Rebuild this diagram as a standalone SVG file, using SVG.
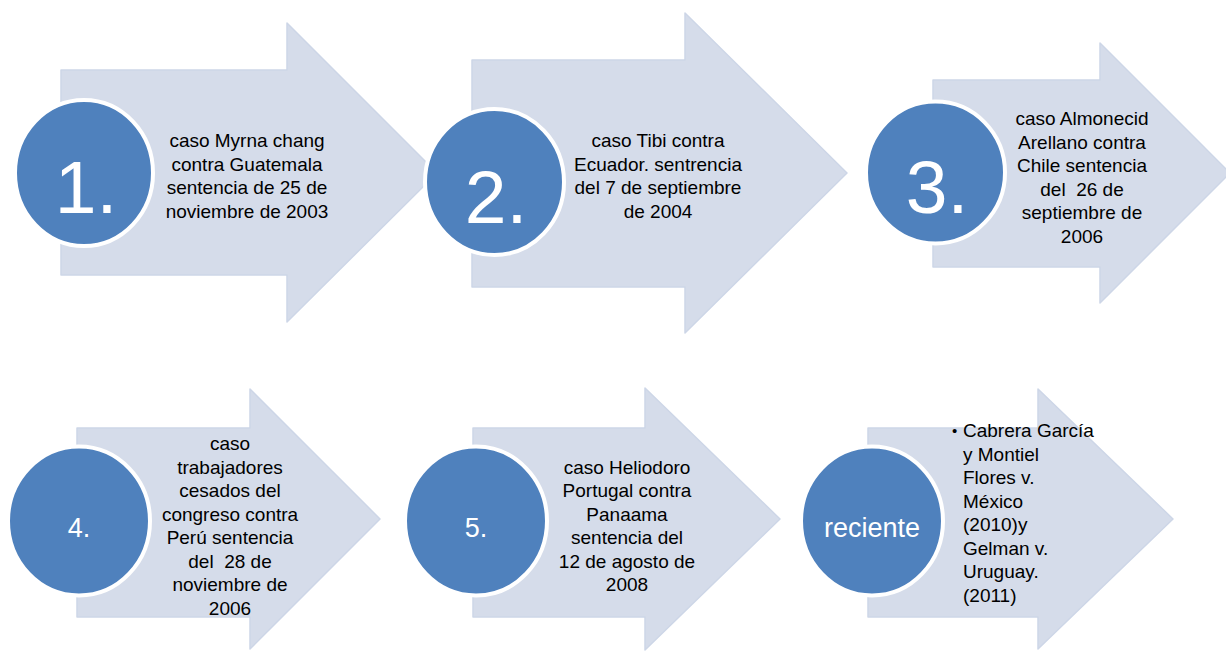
<svg xmlns="http://www.w3.org/2000/svg" width="1226" height="651" viewBox="0 0 1226 651">
<style>
.arrow{fill:#D5DCEA;stroke:#CDD6E7;stroke-width:1.5;stroke-linejoin:round}
.circ{fill:#4F81BD;stroke:#FFFFFF;stroke-width:4}
.t{font-family:"Liberation Sans",Arial,sans-serif;font-size:19px;fill:#000000;text-anchor:middle}
.tl{font-family:"Liberation Sans",Arial,sans-serif;font-size:19px;fill:#000000}
.big{font-family:"Liberation Sans",Arial,sans-serif;font-size:75px;fill:#FFFFFF;text-anchor:middle}
.mid{font-family:"Liberation Sans",Arial,sans-serif;font-size:27px;fill:#FFFFFF;text-anchor:middle}
</style>
<rect width="1226" height="651" fill="#FFFFFF"/>
<g id="connectors"/>
<g id="node1">
<polygon class="arrow" points="61,70 287,70 287,23 437,173 287,322 287,275 61,275"/>
<ellipse class="circ" cx="84" cy="173" rx="69" ry="73"/>
<text class="big" x="86" y="213">1.</text>
<text class="t"><tspan x="247" y="147">caso Myrna chang</tspan><tspan x="247" y="170.5">contra Guatemala</tspan><tspan x="247" y="194">sentencia de 25 de</tspan><tspan x="247" y="217.5">noviembre de 2003</tspan></text>
</g>
<g id="node2">
<polygon class="arrow" points="472,60 685,60 685,13 847,173 685,333 685,287 472,287"/>
<ellipse class="circ" cx="494.5" cy="182" rx="69.5" ry="73"/>
<text class="big" x="496" y="223">2.</text>
<text class="t"><tspan x="658" y="147">caso Tibi contra</tspan><tspan x="658" y="170.5">Ecuador. sentrencia</tspan><tspan x="658" y="194">del 7 de septiembre</tspan><tspan x="658" y="217.5">de 2004</tspan></text>
</g>
<g id="node3">
<polygon class="arrow" points="933,80 1100,80 1100,43 1230,173 1100,303 1100,267 933,267"/>
<ellipse class="circ" cx="935.5" cy="172.5" rx="69.5" ry="71"/>
<text class="big" x="937" y="213">3.</text>
<text class="t" xml:space="preserve"><tspan x="1082" y="125">caso Almonecid</tspan><tspan x="1082" y="148.5">Arellano contra</tspan><tspan x="1082" y="172">Chile sentencia</tspan><tspan x="1082" y="195.5">del  26 de</tspan><tspan x="1082" y="219">septiembre de</tspan><tspan x="1082" y="242.5">2006</tspan></text>
</g>
<g id="node4">
<polygon class="arrow" points="77,428 250,428 250,389 380,519 250,649 250,617 77,617"/>
<ellipse class="circ" cx="79" cy="521" rx="71" ry="74.5"/>
<text class="mid" x="79" y="537">4.</text>
<text class="t" xml:space="preserve"><tspan x="230" y="450">caso</tspan><tspan x="230" y="473.5">trabajadores</tspan><tspan x="230" y="497">cesados del</tspan><tspan x="230" y="520.5">congreso contra</tspan><tspan x="230" y="544">Perú sentencia</tspan><tspan x="230" y="567.5">del  28 de</tspan><tspan x="230" y="591">noviembre de</tspan><tspan x="230" y="614.5">2006</tspan></text>
</g>
<g id="node5">
<polygon class="arrow" points="473,428 645,428 645,388 780,519 645,650 645,617 473,617"/>
<ellipse class="circ" cx="476" cy="521" rx="71" ry="74.5"/>
<text class="mid" x="476" y="537">5.</text>
<text class="t"><tspan x="627" y="473.5">caso Heliodoro</tspan><tspan x="627" y="497">Portugal contra</tspan><tspan x="627" y="520.5">Panaama</tspan><tspan x="627" y="544">sentencia del</tspan><tspan x="627" y="567.5">12 de agosto de</tspan><tspan x="627" y="591">2008</tspan></text>
</g>
<g id="node6">
<polygon class="arrow" points="868,428 1038,428 1038,389 1173,519 1038,649 1038,617 868,617"/>
<ellipse class="circ" cx="872" cy="521" rx="71" ry="74.5"/>
<text class="mid" x="872" y="537">reciente</text>
<text class="tl" x="952" y="436" style="font-size:15px">•</text>
<text class="tl"><tspan x="963" y="437">Cabrera García</tspan><tspan x="963" y="460.5">y Montiel</tspan><tspan x="963" y="484">Flores v.</tspan><tspan x="963" y="507.5">México</tspan><tspan x="963" y="531">(2010)y</tspan><tspan x="963" y="554.5">Gelman v.</tspan><tspan x="963" y="578">Uruguay.</tspan><tspan x="963" y="601.5">(2011)</tspan></text>
</g>
</svg>
